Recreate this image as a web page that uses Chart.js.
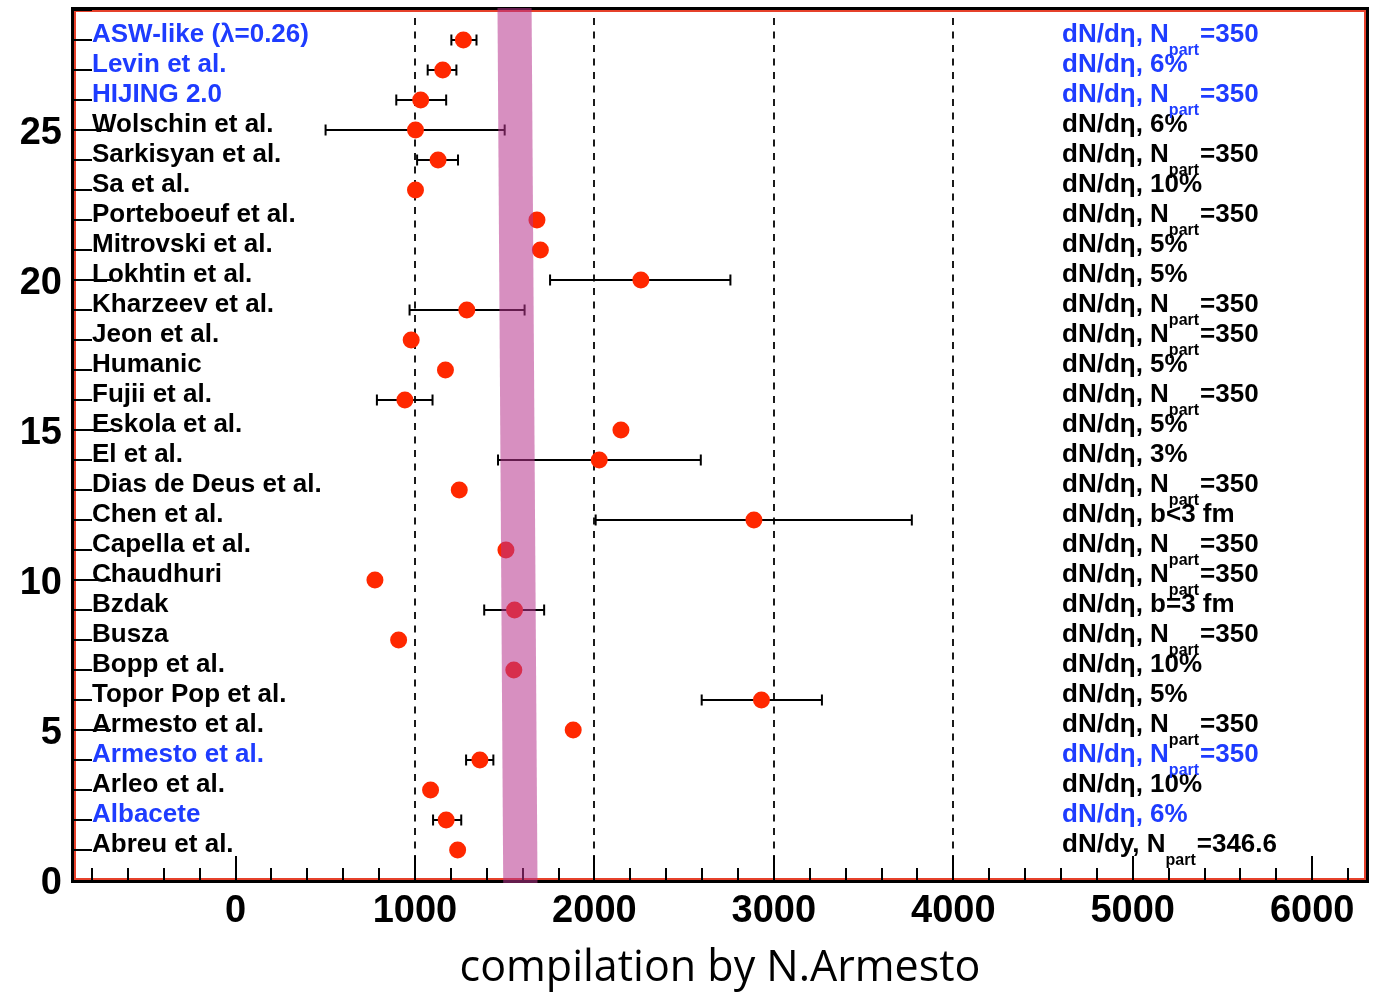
<!DOCTYPE html>
<html><head><meta charset="utf-8">
<script src="https://cdn.jsdelivr.net/npm/chart.js@4.4.1/dist/chart.umd.min.js"></script>
<style>html,body{margin:0;padding:0;background:#fff;overflow:hidden}canvas{display:block}</style>
</head><body>
<canvas id="c" width="1383" height="993"></canvas>
<script>
// rows from bottom (y=1) to top (y=28)
const names = ['Abreu et al.','Albacete','Arleo et al.','Armesto et al.','Armesto et al.','Topor Pop et al.','Bopp et al.','Busza','Bzdak','Chaudhuri','Capella et al.','Chen et al.','Dias de Deus et al.','El et al.','Eskola et al.','Fujii et al.','Humanic','Jeon et al.','Kharzeev et al.','Lokhtin et al.','Mitrovski et al.','Porteboeuf et al.','Sa et al.','Sarkisyan et al.','Wolschin et al.','HIJING 2.0','Levin et al.','ASW-like (\u03bb=0.26)'];
const conditions = ['dN/dy, N_{part}=346.6','dN/d\u03b7, 6%','dN/d\u03b7, 10%','dN/d\u03b7, N_{part}=350','dN/d\u03b7, N_{part}=350','dN/d\u03b7, 5%','dN/d\u03b7, 10%','dN/d\u03b7, N_{part}=350','dN/d\u03b7, b=3 fm','dN/d\u03b7, N_{part}=350','dN/d\u03b7, N_{part}=350','dN/d\u03b7, b<3 fm','dN/d\u03b7, N_{part}=350','dN/d\u03b7, 3%','dN/d\u03b7, 5%','dN/d\u03b7, N_{part}=350','dN/d\u03b7, 5%','dN/d\u03b7, N_{part}=350','dN/d\u03b7, N_{part}=350','dN/d\u03b7, 5%','dN/d\u03b7, 5%','dN/d\u03b7, N_{part}=350','dN/d\u03b7, 10%','dN/d\u03b7, N_{part}=350','dN/d\u03b7, 6%','dN/d\u03b7, N_{part}=350','dN/d\u03b7, 6%','dN/d\u03b7, N_{part}=350'];
const highlighted = [false,true,false,true,false,false,false,false,false,false,false,false,false,false,false,false,false,false,false,false,false,false,false,false,false,true,true,true];
const rows = [1,2,3,4,5,6,7,8,9,10,11,12,13,14,15,16,17,18,19,20,21,22,23,24,25,26,27,28];
const values = [1238,1174,1087,1362,1882,2931,1551,909,1555,777,1507,2889,1247,2027,2148,944,1170,979,1289,2259,1699,1680,1003,1129,1003,1032,1155,1270];
const errLow  = [null,1101,null,1285,null,2598,null,null,1386,null,null,2007,null,1463,null,788,null,null,970,1753,null,null,null,1012,502,896,1071,1203];
const errHigh = [null,1258,null,1437,null,3268,null,null,1720,null,null,3769,null,2593,null,1098,null,null,1611,2758,null,null,null,1240,1500,1174,1231,1343];
// vertical band (bottom edge, top edge)
const bandY = [-0.1, 29.07];
const bandLeft = [1492, 1460];
const bandRight = [1683, 1650];
const refLines = [1000, 2000, 3000, 4000];
const xTickLabels = [0, 1000, 2000, 3000, 4000, 5000, 6000];
const yTickLabels = [0, 5, 10, 15, 20, 25];
const xTitle = 'compilation by N.Armesto';

const BLUE = 'rgb(30,60,255)';
const SANS = '"Liberation Sans", Arial, Helvetica, sans-serif';

const decor = {
  id: 'decor',
  beforeDatasetsDraw(chart) {
    const {ctx, chartArea: a, scales: {x, y}} = chart;
    ctx.save();
    // dashed reference lines
    ctx.strokeStyle = '#1a1a1a'; ctx.lineWidth = 2; ctx.setLineDash([7, 6.5]); ctx.lineDashOffset = -6;
    refLines.forEach(v => {
      const px = Math.round(x.getPixelForValue(v));
      ctx.beginPath(); ctx.moveTo(px, a.top + 2); ctx.lineTo(px, a.bottom); ctx.stroke();
    });
    ctx.setLineDash([]);
    // error bars
    ctx.strokeStyle = '#000'; ctx.lineWidth = 2;
    rows.forEach((r, i) => {
      if (errLow[i] == null) return;
      const py = y.getPixelForValue(r);
      const x1 = x.getPixelForValue(errLow[i]), x2 = x.getPixelForValue(errHigh[i]);
      ctx.beginPath();
      ctx.moveTo(x1, py); ctx.lineTo(x2, py);
      ctx.moveTo(x1, py - 5.5); ctx.lineTo(x1, py + 5.5);
      ctx.moveTo(x2, py - 5.5); ctx.lineTo(x2, py + 5.5);
      ctx.stroke();
    });
    // frame
    ctx.strokeStyle = '#000'; ctx.lineWidth = 3;
    ctx.strokeRect(a.left - 1.5, a.top - 1.5, a.width + 3, a.height + 3);
    ctx.strokeStyle = '#e6412b'; ctx.lineWidth = 2;
    ctx.strokeRect(a.left + 1, a.top + 1, a.width - 2, a.height - 2);
    // axis ticks
    ctx.strokeStyle = '#000'; ctx.lineWidth = 2;
    for (let v = 1; v <= 29; v++) {
      const py = Math.round(y.getPixelForValue(v));
      const len = v % 5 === 0 ? 37 : 18;
      ctx.beginPath(); ctx.moveTo(a.left, py); ctx.lineTo(a.left + len, py); ctx.stroke();
    }
    for (let v = -800; v <= 6200; v += 200) {
      const px = Math.round(x.getPixelForValue(v));
      const len = v % 1000 === 0 ? 24 : 12;
      ctx.beginPath(); ctx.moveTo(px, a.bottom); ctx.lineTo(px, a.bottom - len); ctx.stroke();
    }
    ctx.restore();
  },
  afterDatasetsDraw(chart) {
    const {ctx, scales: {x, y}} = chart;
    ctx.save();
    ctx.fillStyle = 'rgba(182,51,140,0.55)';
    ctx.beginPath();
    ctx.moveTo(x.getPixelForValue(bandLeft[0]), y.getPixelForValue(bandY[0]));
    ctx.lineTo(x.getPixelForValue(bandLeft[1]), y.getPixelForValue(bandY[1]));
    ctx.lineTo(x.getPixelForValue(bandRight[1]), y.getPixelForValue(bandY[1]));
    ctx.lineTo(x.getPixelForValue(bandRight[0]), y.getPixelForValue(bandY[0]));
    ctx.closePath(); ctx.fill();
    ctx.restore();
  },
  afterDraw(chart) {
    const {ctx, chartArea: a, scales: {y}} = chart;
    ctx.save();
    ctx.textBaseline = 'alphabetic'; ctx.textAlign = 'left';
    const mainFont = '700 26px ' + SANS, subFont = '700 16px ' + SANS;
    rows.forEach((r, i) => {
      const py = y.getPixelForValue(r) + 2;
      ctx.fillStyle = highlighted[i] ? BLUE : '#000';
      ctx.font = mainFont;
      ctx.fillText(names[i], a.left + 18, py);
      // condition label with subscript
      let cx = a.left + 988;
      const parts = conditions[i].split(/_\{([^}]*)\}/);
      parts.forEach((p, k) => {
        if (k % 2 === 0) {
          ctx.font = mainFont; ctx.fillText(p, cx, py); cx += ctx.measureText(p).width;
        } else {
          ctx.font = subFont; ctx.fillText(p, cx, py + 13); cx += ctx.measureText(p).width + 1;
        }
      });
    });
    ctx.restore();
  }
};

new Chart(document.getElementById('c'), {
  type: 'scatter',
  data: {
    datasets: [{
      data: values.map((v, i) => ({x: v, y: rows[i]})),
      backgroundColor: 'rgb(255,40,0)',
      borderWidth: 0,
      pointRadius: 8.5,
      pointHoverRadius: 8.5
    }]
  },
  options: {
    responsive: false,
    animation: false,
    devicePixelRatio: 1,
    layout: {padding: {left: 0, right: 17, top: 10, bottom: 0}},
    plugins: {legend: {display: false}, tooltip: {enabled: false}},
    scales: {
      x: {
        type: 'linear', min: -900, max: 6300,
        afterFit(s) { s.height = 113; s.paddingLeft = 0; s.paddingRight = 0; },
        afterBuildTicks(s) { s.ticks = xTickLabels.map(v => ({value: v})); },
        grid: {display: false, drawTicks: false},
        border: {display: false},
        ticks: {autoSkip: false, maxRotation: 0, padding: 9, color: '#000',
          font: {family: SANS, size: 38, weight: '700'}, callback: v => String(v)},
        title: {display: true, text: xTitle, color: '#000',
          font: {family: '"Open Sans", Lato, sans-serif', size: 43, weight: '400'},
          padding: {top: 0, bottom: -2}}
      },
      y: {
        type: 'linear', min: 0, max: 29,
        afterFit(s) { s.width = 74; s.paddingTop = 0; s.paddingBottom = 0; },
        afterBuildTicks(s) { s.ticks = yTickLabels.map(v => ({value: v})); },
        grid: {display: false, drawTicks: false},
        border: {display: false},
        ticks: {autoSkip: false, padding: 12, labelOffset: 4, color: '#000',
          font: {family: SANS, size: 38, weight: '700'}, callback: v => String(v)}
      }
    }
  },
  plugins: [decor]
});
</script>
</body></html>
